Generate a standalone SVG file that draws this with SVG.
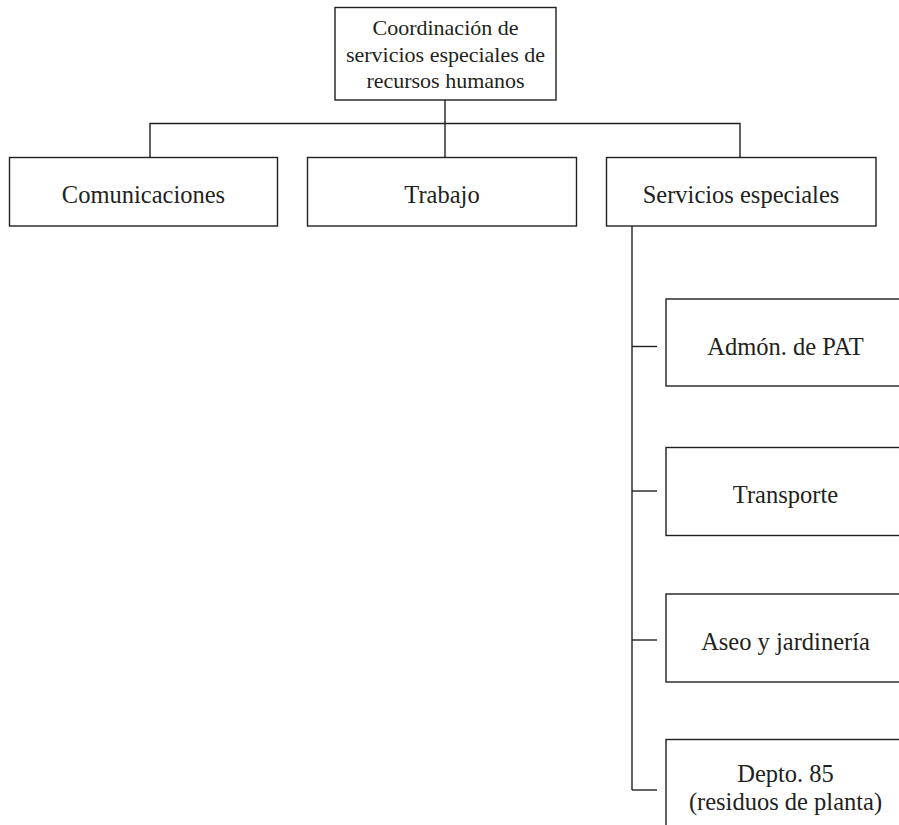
<svg xmlns="http://www.w3.org/2000/svg" width="899" height="825" viewBox="0 0 899 825">
<style>
rect{fill:#fff;stroke:#231f20;stroke-width:1.4}
.c line,.c polyline{stroke:#231f20;stroke-width:1.4;fill:none}
text{fill:#231f20;text-anchor:middle}
.t{font-size:22px}
.n{font-size:24.5px}
</style>
<rect x="0" y="0" width="899" height="825" style="stroke:none"/>
<g class="c" id="connectors">
<line x1="445" y1="100" x2="445" y2="157.5"/>
<polyline points="150,157.5 150,123.5 740,123.5 740,157.5"/>
<line x1="632" y1="226" x2="632" y2="790"/>
<line x1="632" y1="346.5" x2="657" y2="346.5"/>
<line x1="632" y1="491" x2="657" y2="491"/>
<line x1="632" y1="640" x2="657" y2="640"/>
<line x1="632" y1="790" x2="657" y2="790"/>
</g>
<g font-family="Liberation Serif, DejaVu Serif, serif">
<g id="root">
<rect x="335" y="7.5" width="221" height="92.5"/>
<text class="t" x="445.5" y="35">Coordinación de</text>
<text class="t" x="445.5" y="62">servicios especiales de</text>
<text class="t" x="445.5" y="88">recursos humanos</text>
</g>
<g id="comunicaciones">
<rect x="9.5" y="157.5" width="268" height="68.5"/>
<text class="n" x="143.5" y="202.5">Comunicaciones</text>
</g>
<g id="trabajo">
<rect x="307.5" y="157.5" width="269" height="68.5"/>
<text class="n" x="442" y="202.5">Trabajo</text>
</g>
<g id="servicios">
<rect x="606.5" y="157.5" width="269.5" height="68.5"/>
<text class="n" x="741" y="202.5">Servicios especiales</text>
</g>
<g id="admon">
<rect x="666" y="299" width="240" height="87"/>
<text class="n" x="785.5" y="355">Admón. de PAT</text>
</g>
<g id="transporte">
<rect x="666" y="447.5" width="240" height="88"/>
<text class="n" x="785.5" y="503">Transporte</text>
</g>
<g id="aseo">
<rect x="666" y="594" width="240" height="88"/>
<text class="n" x="785.5" y="650">Aseo y jardinería</text>
</g>
<g id="depto">
<rect x="666" y="739.5" width="240" height="100"/>
<text class="n" x="785.5" y="782">Depto. 85</text>
<text class="n" x="785.5" y="810">(residuos de planta)</text>
</g>
</g>
</svg>
